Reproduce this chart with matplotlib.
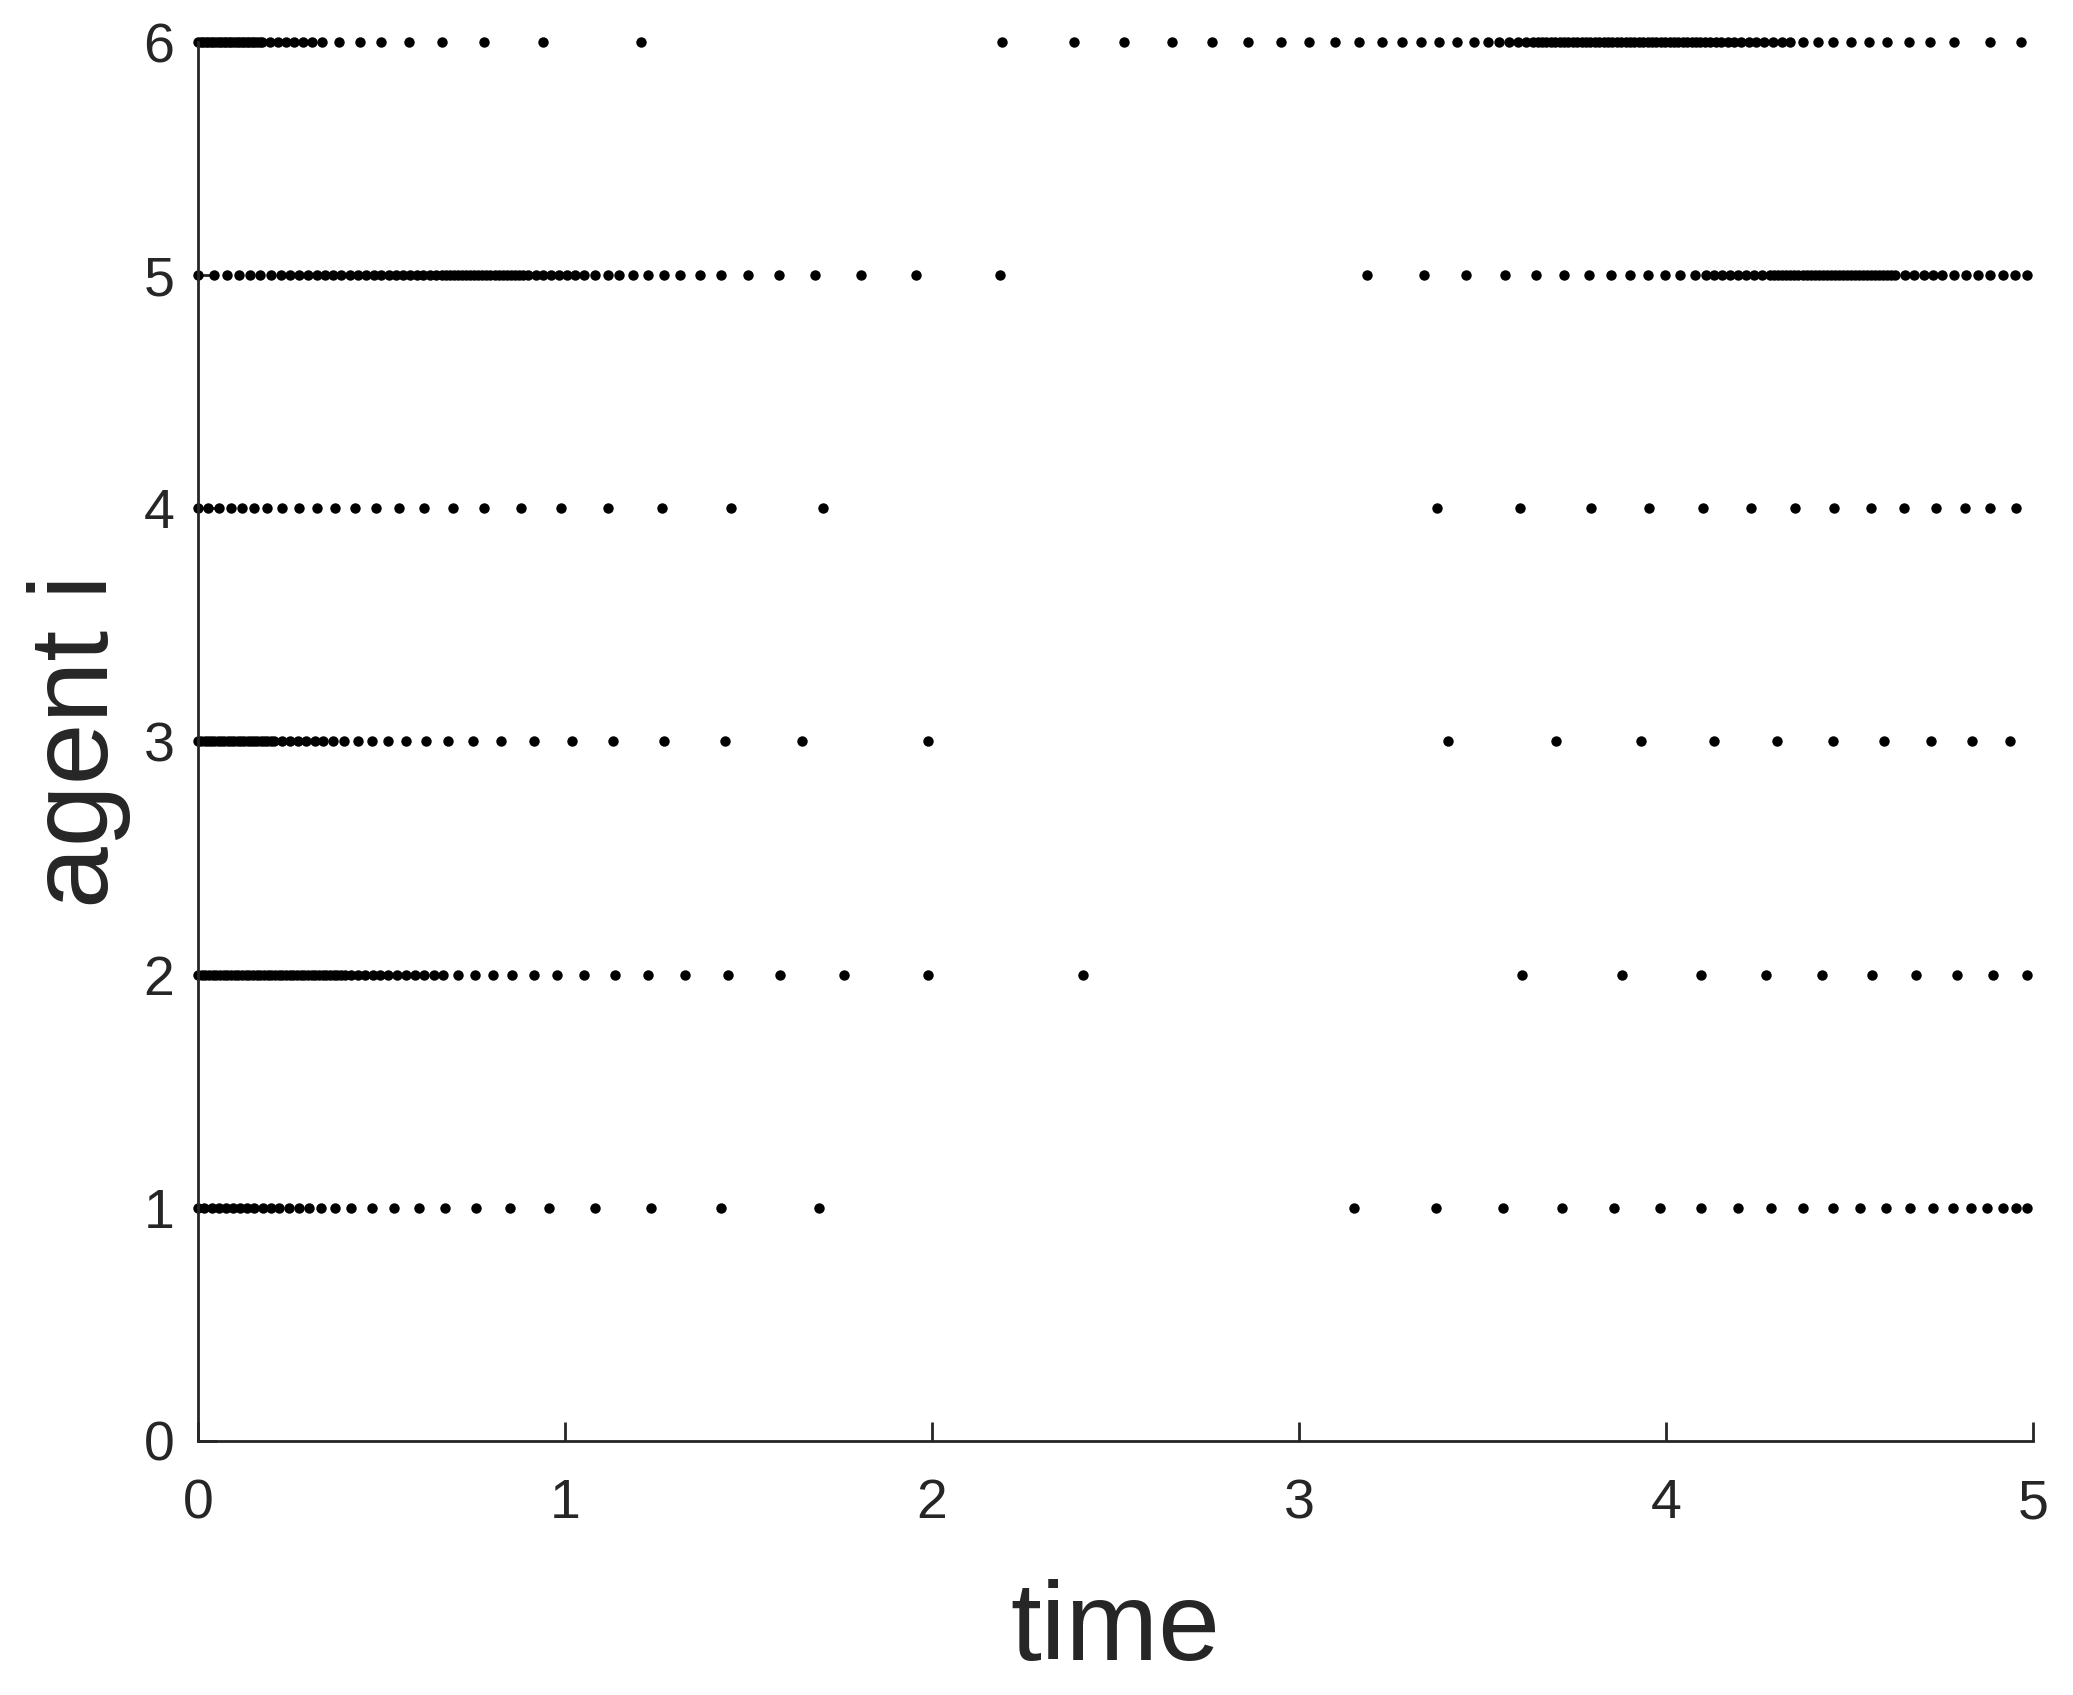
import matplotlib
matplotlib.use("Agg")
import matplotlib.pyplot as plt

plt.rcParams['font.family'] = ['Liberation Sans', 'DejaVu Sans']

# event times of each agent
agent1 = [0.000, 0.017, 0.037, 0.056, 0.076, 0.095, 0.115, 0.134, 0.154, 0.176,
          0.199, 0.222, 0.248, 0.276, 0.303, 0.336, 0.373, 0.417, 0.474, 0.534,
          0.601, 0.674, 0.758, 0.851, 0.956, 1.083, 1.234, 1.424, 1.692,
          3.151, 3.374, 3.555, 3.716, 3.858, 3.985, 4.095, 4.196, 4.287, 4.373,
          4.455, 4.530, 4.600, 4.666, 4.727, 4.782, 4.831, 4.876, 4.917, 4.954, 4.983]

agent2 = [0.000, 0.010, 0.020, 0.030, 0.040, 0.050, 0.060, 0.070, 0.080, 0.090,
          0.100, 0.110, 0.120, 0.130, 0.140, 0.150, 0.160, 0.170, 0.180, 0.190,
          0.200, 0.210, 0.220, 0.230, 0.240, 0.250, 0.260, 0.270, 0.280, 0.290,
          0.300, 0.310, 0.320, 0.330, 0.340, 0.350, 0.360, 0.370, 0.380, 0.390,
          0.400, 0.418, 0.437, 0.456, 0.476, 0.497, 0.519, 0.542, 0.566, 0.591,
          0.616, 0.642, 0.669, 0.709, 0.755, 0.803, 0.856,
          0.916, 0.977, 1.051, 1.135, 1.226, 1.327, 1.445, 1.587, 1.760, 1.990, 2.411,
          3.608, 3.880, 4.095, 4.273, 4.425, 4.562, 4.682, 4.793, 4.892, 4.983]

agent3 = [0.000, 0.009, 0.018, 0.027, 0.036, 0.045, 0.054, 0.063, 0.072, 0.081,
          0.090, 0.099, 0.108, 0.117, 0.126, 0.135, 0.144, 0.153, 0.162, 0.171,
          0.180, 0.189, 0.198, 0.206, 0.228, 0.250, 0.272, 0.295, 0.318, 0.342,
          0.368, 0.398, 0.437, 0.475, 0.518, 0.566,
          0.622, 0.680, 0.750, 0.826, 0.916, 1.018, 1.132, 1.270, 1.436, 1.647, 1.988,
          3.407, 3.700, 3.931, 4.130, 4.303, 4.455, 4.595, 4.722, 4.834, 4.937]

agent4 = [0.000, 0.027, 0.056, 0.089, 0.121, 0.154, 0.189, 0.230, 0.274, 0.323,
          0.373, 0.428, 0.485, 0.547, 0.617, 0.696, 0.779, 0.880, 0.989, 1.116,
          1.265, 1.452, 1.704,
          3.377, 3.601, 3.795, 3.954, 4.100, 4.231, 4.352, 4.459, 4.558, 4.649,
          4.735, 4.814, 4.884, 4.954]

agent5 = [0.000, 0.043, 0.079, 0.112, 0.141, 0.170, 0.198, 0.225, 0.251, 0.276,
          0.300, 0.323, 0.345, 0.368, 0.391, 0.413, 0.436, 0.458, 0.479, 0.500,
          0.520, 0.540, 0.559, 0.578, 0.596, 0.614, 0.631, 0.648, 0.664, 0.676,
          0.687, 0.698, 0.709, 0.720, 0.731, 0.742, 0.753, 0.764, 0.775, 0.786,
          0.797, 0.808, 0.819, 0.830, 0.841, 0.852, 0.863, 0.874, 0.885, 0.898,
          0.920, 0.941, 0.962, 0.984, 1.006, 1.028, 1.051, 1.083, 1.116, 1.148,
          1.184, 1.226, 1.270, 1.314, 1.367, 1.424, 1.500, 1.583, 1.681, 1.806,
          1.957, 2.184,
          3.184, 3.341, 3.456, 3.560, 3.646, 3.722, 3.791, 3.849, 3.902, 3.951,
          3.996, 4.039, 4.078, 4.108, 4.130, 4.152, 4.174, 4.196, 4.218, 4.240,
          4.262, 4.284, 4.295, 4.306, 4.317, 4.328, 4.339, 4.350, 4.361, 4.372,
          4.383, 4.394, 4.405, 4.416, 4.427, 4.438, 4.449, 4.460, 4.471, 4.482,
          4.493, 4.504, 4.515, 4.526, 4.537, 4.548, 4.559, 4.570, 4.581, 4.592,
          4.603, 4.614, 4.625, 4.650, 4.676, 4.702, 4.727, 4.752, 4.785, 4.818,
          4.851, 4.884, 4.917, 4.950, 4.983]

agent6 = [0.000, 0.007, 0.014, 0.021, 0.028, 0.035, 0.042, 0.049, 0.056, 0.063,
          0.070, 0.077, 0.084, 0.091, 0.098, 0.105, 0.112, 0.119, 0.126, 0.133,
          0.140, 0.147, 0.154, 0.161, 0.168, 0.175, 0.197, 0.219, 0.241, 0.263,
          0.285, 0.310, 0.339, 0.385, 0.441, 0.498, 0.575, 0.664,
          0.779, 0.940, 1.208,
          2.190, 2.387, 2.524, 2.653, 2.763, 2.861, 2.950, 3.027, 3.098, 3.164,
          3.225, 3.280, 3.333, 3.382, 3.431, 3.477, 3.514, 3.545, 3.572, 3.596,
          3.618, 3.638, 3.650, 3.662, 3.674, 3.686, 3.698, 3.710, 3.722, 3.734,
          3.746, 3.758, 3.770, 3.782, 3.794, 3.806, 3.818, 3.830, 3.842, 3.854,
          3.866, 3.878, 3.890, 3.902, 3.914, 3.926, 3.938, 3.950, 3.962, 3.974,
          3.986, 3.998, 4.010, 4.022, 4.034, 4.046, 4.058, 4.070, 4.082, 4.094,
          4.106, 4.120, 4.135, 4.151, 4.168, 4.186, 4.205, 4.225, 4.246, 4.268,
          4.291, 4.315, 4.339, 4.372, 4.413, 4.455, 4.504, 4.553, 4.603, 4.661,
          4.719, 4.785, 4.883, 4.966]

agents = [agent1, agent2, agent3, agent4, agent5, agent6]

fig = plt.figure(figsize=(20.73, 16.95), dpi=100)
ax = fig.add_axes([0.0955, 0.1499, 0.8852, 0.8253])

for i, times in enumerate(agents):
    ax.plot(times, [i + 1] * len(times), 'o', color='black',
            markersize=7.5, markeredgewidth=0, clip_on=False)

gray = '#262626'
ax.set_xlim(0, 5)
ax.set_ylim(0, 6)
ax.set_xticks([0, 1, 2, 3, 4, 5])
ax.set_yticks([0, 1, 2, 3, 4, 5, 6])
ax.spines['top'].set_visible(False)
ax.spines['right'].set_visible(False)
for s in ['left', 'bottom']:
    ax.spines[s].set_color(gray)
    ax.spines[s].set_linewidth(2)
ax.tick_params(direction='in', length=14, width=2, colors=gray,
               labelsize=40)
ax.tick_params(axis='x', pad=27)
ax.tick_params(axis='y', pad=17)
ax.set_xlabel('time', fontsize=80, color=gray, labelpad=35)
ax.set_ylabel('agent i', fontsize=80, color=gray, labelpad=9)

fig.savefig('out.png', dpi=100)
